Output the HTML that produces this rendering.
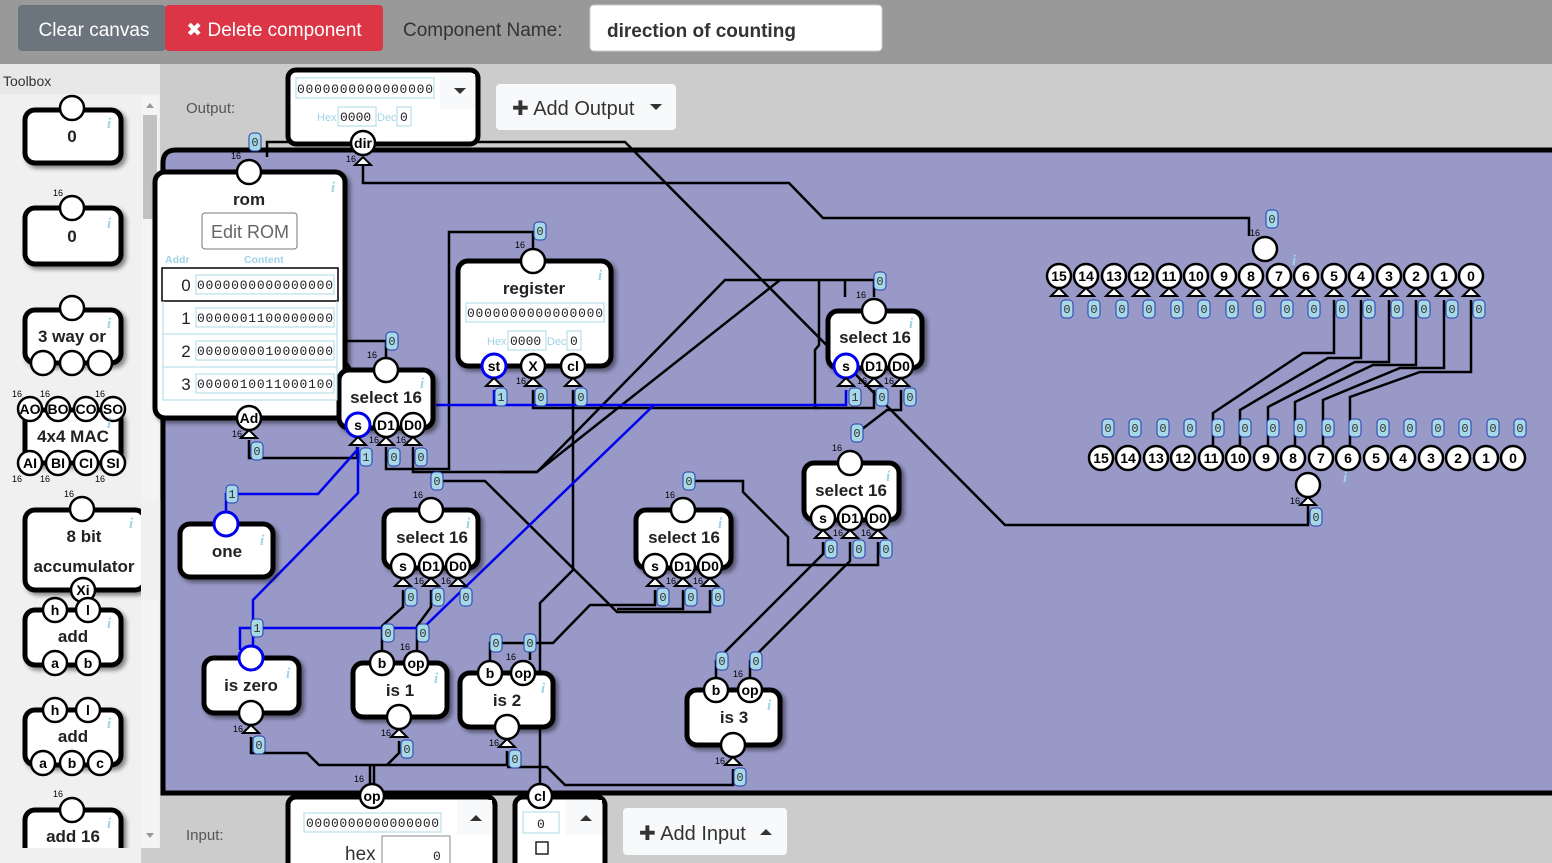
<!DOCTYPE html>
<html><head><meta charset="utf-8"><style>
body{margin:0;width:1552px;height:863px;overflow:hidden;background:#ccc;font-family:"Liberation Sans",sans-serif;position:relative}
svg{position:absolute;left:0;top:0}
.w{fill:none;stroke:#000;stroke-width:2.5}
.bl{fill:none;stroke:#0000ee;stroke-width:2.5}
.bx{fill:#fff;stroke:#000;stroke-width:5}
.p{fill:#fff;stroke:#000;stroke-width:2.5}
.pb{fill:#fff;stroke:#0000ee;stroke-width:3}
.tr{fill:#fff;stroke:#000;stroke-width:2}
.lb{fill:#a8d8e6;stroke:#2040b0;stroke-width:1}
.lt{font-family:"Liberation Mono",monospace;font-size:12px;fill:#333;text-anchor:middle}
.pt{font-weight:bold;font-size:14px;text-anchor:middle;fill:#000}
.ct{font-weight:bold;font-size:17px;text-anchor:middle;fill:#222}
.n16{font-size:9px;fill:#000}
.ii{font-style:italic;font-weight:bold;font-size:15px;fill:#9fd3e6;font-family:"Liberation Serif",serif}
.mono{font-family:"Liberation Mono",monospace;font-size:13px;fill:#222}
.hb{fill:#9fd3e6;font-size:11px}
</style></head><body>
<svg width="1552" height="863" viewBox="0 0 1552 863">
<defs><filter id="sh" x="-10%" y="-10%" width="130%" height="130%"><feDropShadow dx="3" dy="3" stdDeviation="2" flood-opacity="0.45"/></filter></defs>
<!-- header -->
<rect x="0" y="0" width="1552" height="64" fill="#999"/>
<rect x="18" y="5" width="148" height="46" rx="4" fill="#6c757d"/>
<text x="94" y="36" font-size="19" fill="#fff" text-anchor="middle">Clear canvas</text>
<rect x="165" y="5" width="218" height="46" rx="4" fill="#dc3545"/>
<text x="274" y="36" font-size="19" fill="#fff" text-anchor="middle">✖ Delete component</text>
<text x="403" y="36" font-size="19" fill="#333">Component Name:</text>
<rect x="590" y="5" width="292" height="46" rx="4" fill="#fff" stroke="#ccc"/>
<text x="607" y="37" font-size="19" font-weight="bold" fill="#333">direction of counting</text>
<!-- toolbox -->
<rect x="0" y="64" width="160" height="799" fill="#f0f0f0"/>
<rect x="0" y="64" width="160" height="30" fill="#e8e8e8"/>
<text x="3" y="86" font-size="14" fill="#333">Toolbox</text>
<rect x="142" y="96" width="16" height="752" fill="#f4f4f4"/>
<rect x="143" y="115" width="14" height="104" fill="#c1c1c1"/>
<path d="M146,108 L150,103 L154,108Z M146,833 L150,838 L154,833Z" fill="#999"/>
<rect x="0" y="848" width="160" height="15" fill="#ccc"/>
<g filter="url(#sh)">
<rect class="bx" x="25" y="110" width="96" height="53" rx="10"/>
<rect class="bx" x="25" y="208" width="96" height="56" rx="10"/>
<rect class="bx" x="25" y="310" width="96" height="53" rx="10"/>
<rect class="bx" x="25" y="410" width="96" height="53" rx="10"/>
<rect class="bx" x="25" y="510" width="120" height="80" rx="10"/>
<rect class="bx" x="25" y="610" width="96" height="55" rx="10"/>
<rect class="bx" x="25" y="710" width="96" height="55" rx="10"/>
<rect class="bx" x="25" y="810" width="96" height="50" rx="10"/>
</g>
<rect x="141" y="500" width="20" height="100" fill="#f0f0f0"/>
<g>
<circle class="p" cx="72" cy="108" r="12"/><text class="ct" x="72" y="142">0</text><text class="ii" x="107" y="128">i</text>
<circle class="p" cx="72" cy="208" r="12"/><text class="n16" x="53" y="196">16</text><text class="ct" x="72" y="242">0</text><text class="ii" x="107" y="228">i</text>
<circle class="p" cx="72" cy="308" r="12"/><text class="ct" x="72" y="342">3 way or</text><text class="ii" x="107" y="328">i</text>
<circle class="p" cx="43" cy="363" r="12"/><circle class="p" cx="72" cy="363" r="12"/><circle class="p" cx="100" cy="363" r="12"/>
<circle class="p" cx="30" cy="409" r="12"/><circle class="p" cx="58" cy="409" r="12"/><circle class="p" cx="86" cy="409" r="12"/><circle class="p" cx="113" cy="409" r="12"/>
<text class="pt" x="30" y="414">AO</text><text class="pt" x="58" y="414">BO</text><text class="pt" x="86" y="414">CO</text><text class="pt" x="113" y="414">SO</text>
<text class="n16" x="12" y="397">16</text><text class="n16" x="40" y="397">16</text><text class="n16" x="95" y="397">16</text>
<text class="ct" x="73" y="442">4x4 MAC</text><text class="ii" x="107" y="428">i</text>
<circle class="p" cx="30" cy="463" r="12"/><circle class="p" cx="58" cy="463" r="12"/><circle class="p" cx="86" cy="463" r="12"/><circle class="p" cx="113" cy="463" r="12"/>
<text class="pt" x="30" y="468">AI</text><text class="pt" x="58" y="468">BI</text><text class="pt" x="86" y="468">CI</text><text class="pt" x="113" y="468">SI</text>
<text class="n16" x="12" y="482">16</text><text class="n16" x="40" y="482">16</text><text class="n16" x="95" y="482">16</text>
<circle class="p" cx="82" cy="509" r="12"/><text class="n16" x="64" y="497">16</text>
<text class="ct" x="84" y="542">8 bit</text><text class="ct" x="84" y="572">accumulator</text><text class="ii" x="129" y="528">i</text>
<circle class="p" cx="83" cy="590" r="12"/><text class="pt" x="83" y="595">Xi</text>
<circle class="p" cx="55" cy="610" r="12"/><circle class="p" cx="88" cy="610" r="12"/><text class="pt" x="55" y="615">h</text><text class="pt" x="88" y="615">l</text>
<text class="ct" x="73" y="642">add</text><text class="ii" x="107" y="628">i</text>
<circle class="p" cx="55" cy="663" r="12"/><circle class="p" cx="88" cy="663" r="12"/><text class="pt" x="55" y="668">a</text><text class="pt" x="88" y="668">b</text>
<circle class="p" cx="55" cy="710" r="12"/><circle class="p" cx="88" cy="710" r="12"/><text class="pt" x="55" y="715">h</text><text class="pt" x="88" y="715">l</text>
<text class="ct" x="73" y="742">add</text><text class="ii" x="107" y="728">i</text>
<circle class="p" cx="43" cy="763" r="12"/><circle class="p" cx="72" cy="763" r="12"/><circle class="p" cx="100" cy="763" r="12"/>
<text class="pt" x="43" y="768">a</text><text class="pt" x="72" y="768">b</text><text class="pt" x="100" y="768">c</text>
<circle class="p" cx="72" cy="810" r="12"/><text class="n16" x="53" y="797">16</text><text class="ct" x="73" y="842">add 16</text><text class="ii" x="107" y="828">i</text>
</g>
<rect x="0" y="848" width="141" height="15" fill="#f0f0f0"/>
<!-- labels output/input -->
<text x="186" y="113" font-size="15" fill="#555">Output:</text>
<text x="186" y="840" font-size="15" fill="#555">Input:</text>
<!-- canvas -->
<path d="M163,793 V163 Q163,150 176,150 H1560 V793 Z" fill="#9999c8" stroke="#000" stroke-width="5"/>
<!-- add output -->
<rect x="496" y="84" width="180" height="46" rx="4" fill="#f8f9fa"/>
<text x="512" y="115" font-size="20" fill="#333">✚ Add Output</text><path d="M650,104 L656,110 L662,104Z" fill="#333"/>
<!-- wires -->
<g class="w">
<path d="M363,160 V183 H789 L823,218 H1249 V236"/>
<path d="M267,157 V142 H625 L1005,525 H1308 V505"/>
<path d="M386,357 V341 H331 L353,372"/>
<path d="M249,440 V458 H357 V447"/>
<path d="M386,447 V469 H449 V232 H533 V248"/>
<path d="M413,447 V472 H537 L725,280 H874 V297"/>
<path d="M845,280 V297"/>
<path d="M780,280 L537,472 H500"/>
<path d="M819,280 V345 L815,350 V408 H874 V390"/>
<path d="M533,390 V408 H819"/>
<path d="M573,390 V570 L540,603 V783"/>
<path d="M857,433 L887,410 H901 V390"/>
<path d="M437,481 H485 L617,612 H710 V590"/>
<path d="M683,590 V609 H617"/>
<path d="M655,590 V605 H590 L553,643 H490 V660"/>
<path d="M530,643 V660"/>
<path d="M689,481 H743 V492 L788,537 V565 H878 V542"/>
<path d="M716,677 V661 L823,554 V542"/>
<path d="M750,677 V661 L850,561 V542"/>
<path d="M403,590 V607 L382,626 V650"/>
<path d="M431,590 V607 L417,626 V650"/>
<path d="M251,737 V753 H307 L319,765 H507 V751"/>
<path d="M399,741 V753 L387,765"/>
<path d="M733,769 V785 H565 L547,767 H507"/>
<path d="M370,765 V783 M374,765 V783"/>
<path d="M1334,300 V353 H1303 L1213,413 V445"/>
<path d="M1361,300 V358 H1328 L1240,410 V445"/>
<path d="M1389,300 V362 H1355 L1268,407 V445"/>
<path d="M1416,300 V365 H1373 L1295,402 V445"/>
<path d="M1444,300 V368 H1400 L1323,400 V445"/>
<path d="M1471,300 V372 H1420 L1350,397 V445"/>
</g>
<g class="bl">
<path d="M436,405 H846 V390"/>
<path d="M494,390 V405"/>
<path d="M240,650 V628 H423 L654,405"/>
<path d="M358,447 V493 L253,600 V645"/>
<path d="M226,511 V494 H318 L358,449"/>
</g>
<!-- output box -->
<rect x="288" y="70" width="190" height="74" rx="8" fill="#fff" stroke="#000" stroke-width="5"/>
<rect x="440" y="74" width="35" height="35" fill="#f8f9fa"/><path d="M454,88 L460,94 L466,88Z" fill="#333"/>
<rect x="296" y="78" width="138" height="20" fill="#fff" stroke="#a8d8e6"/>
<text class="mono" x="297" y="93" textLength="136">0000000000000000</text>
<text class="hb" x="317" y="121">Hex</text><rect x="338" y="107" width="38" height="19" fill="#fff" stroke="#a8d8e6"/><text class="mono" x="340" y="121">0000</text>
<text class="hb" x="377" y="121">Dec</text><rect x="397" y="107" width="14" height="19" fill="#fff" stroke="#a8d8e6"/><text class="mono" x="400" y="121">0</text>
<!-- input boxes -->
<rect x="288" y="797" width="207" height="80" rx="8" fill="#fff" stroke="#000" stroke-width="5"/>
<rect x="457" y="800" width="35" height="35" fill="#f8f9fa"/><path d="M470,821 L476,815 L482,821Z" fill="#333"/>
<rect x="304" y="813" width="137" height="19" fill="#fff" stroke="#a8d8e6"/>
<text class="mono" x="306" y="827" textLength="133">0000000000000000</text>
<text x="345" y="860" font-size="19" fill="#333">hex</text>
<rect x="382" y="836" width="68" height="30" fill="#fff" stroke="#888"/><text class="mono" x="433" y="860" font-size="18">0</text>
<rect x="515" y="797" width="90" height="80" rx="8" fill="#fff" stroke="#000" stroke-width="5"/>
<rect x="566" y="800" width="36" height="35" fill="#f8f9fa"/><path d="M580,821 L586,815 L592,821Z" fill="#333"/>
<rect x="523" y="812" width="36" height="21" fill="#fff" stroke="#a8d8e6"/><text class="mono" x="537" y="828">0</text>
<rect x="536" y="842" width="12" height="12" fill="#fff" stroke="#222" stroke-width="1.5"/>
<rect x="623" y="808" width="164" height="47" rx="4" fill="#f8f9fa"/>
<text x="639" y="840" font-size="20" fill="#333">✚ Add Input</text><path d="M760,835 L766,829 L772,835Z" fill="#333"/>
<circle class="p" cx="372" cy="796" r="12"/><text class="pt" x="372" y="801">op</text><text class="n16" x="354" y="782">16</text>
<circle class="p" cx="540" cy="796" r="12"/><text class="pt" x="540" y="801">cl</text>
<circle class="p" cx="363" cy="143" r="12"/><text class="pt" x="363" y="148">dir</text>
<polygon class="tr" points="355,165 363,157 371,165"/><text class="n16" x="346" y="162">16</text>
<!-- component boxes -->
<g filter="url(#sh)">
<rect class="bx" x="155" y="172" width="190" height="246" rx="10"/>
<rect class="bx" x="339" y="370" width="94" height="58" rx="10"/>
<rect class="bx" x="458" y="261" width="153" height="105" rx="10"/>
<rect class="bx" x="828" y="311" width="94" height="57" rx="10"/>
<rect class="bx" x="804" y="463" width="95" height="57" rx="10"/>
<rect class="bx" x="384" y="510" width="94" height="58" rx="10"/>
<rect class="bx" x="636" y="510" width="95" height="58" rx="10"/>
<rect class="bx" x="180" y="524" width="93" height="53" rx="10"/>
<rect class="bx" x="204" y="658" width="95" height="55" rx="10"/>
<rect class="bx" x="353" y="663" width="94" height="54" rx="10"/>
<rect class="bx" x="460" y="673" width="93" height="54" rx="10"/>
<rect class="bx" x="687" y="690" width="93" height="55" rx="10"/>
</g>
<!-- rom -->
<circle class="p" cx="249" cy="172" r="12"/><text class="n16" x="231" y="159">16</text>
<text class="ct" x="249" y="205">rom</text><text class="ii" x="331" y="192">i</text>
<rect x="202" y="213" width="95" height="36" rx="3" fill="#fff" stroke="#777"/>
<text x="250" y="238" font-size="18" fill="#666" text-anchor="middle">Edit ROM</text>
<text x="165" y="263" font-size="10.5" font-weight="bold" fill="#9fd3e6">Addr</text>
<text x="244" y="263" font-size="10.5" font-weight="bold" fill="#9fd3e6">Content</text>
<rect x="162" y="268" width="176" height="33" fill="#fff" stroke="#000" stroke-width="1.5"/>
<path d="M163,301 V400 H337 V301 M163,334 H337 M163,367 H337" fill="none" stroke="#a8d8e6"/>
<g font-size="17" fill="#222" text-anchor="middle"><text x="186" y="291">0</text><text x="186" y="324">1</text><text x="186" y="357">2</text><text x="186" y="390">3</text></g>
<g fill="#fff" stroke="#a8d8e6"><rect x="196" y="275" width="138" height="19"/><rect x="196" y="308" width="138" height="19"/><rect x="196" y="341" width="138" height="19"/><rect x="196" y="374" width="138" height="19"/></g>
<text class="mono" x="197" y="289" textLength="136">0000000000000000</text>
<text class="mono" x="197" y="322" textLength="136">0000001100000000</text>
<text class="mono" x="197" y="355" textLength="136">0000000010000000</text>
<text class="mono" x="197" y="388" textLength="136">0000010011000100</text>
<circle class="p" cx="249" cy="418" r="12"/><text class="pt" x="249" y="423">Ad</text>
<polygon class="tr" points="241,438 249,430 257,438"/><text class="n16" x="232" y="437">16</text>
<!-- select16 a -->
<circle class="p" cx="386" cy="370" r="12"/><text class="n16" x="367" y="358">16</text>
<text class="ct" x="386" y="403">select 16</text><text class="ii" x="420" y="388">i</text>
<circle class="pb" cx="358" cy="425" r="12"/><circle class="p" cx="386" cy="425" r="12"/><circle class="p" cx="413" cy="425" r="12"/>
<text class="pt" x="358" y="430">s</text><text class="pt" x="386" y="430">D1</text><text class="pt" x="413" y="430">D0</text>
<polygon class="tr" points="350,445 358,437 366,445"/><polygon class="tr" points="378,445 386,437 394,445"/><polygon class="tr" points="405,445 413,437 421,445"/>
<text class="n16" x="369" y="443">16</text><text class="n16" x="396" y="443">16</text>
<!-- register -->
<circle class="p" cx="533" cy="261" r="12"/><text class="n16" x="515" y="248">16</text>
<text class="ct" x="534" y="294">register</text><text class="ii" x="598" y="280">i</text>
<rect x="466" y="303" width="138" height="19" fill="#fff" stroke="#a8d8e6"/>
<text class="mono" x="467" y="317" textLength="136">0000000000000000</text>
<text class="hb" x="487" y="345">Hex</text><rect x="508" y="331" width="38" height="19" fill="#fff" stroke="#a8d8e6"/><text class="mono" x="510" y="345">0000</text>
<text class="hb" x="547" y="345">Dec</text><rect x="567" y="331" width="14" height="19" fill="#fff" stroke="#a8d8e6"/><text class="mono" x="570" y="345">0</text>
<circle class="pb" cx="494" cy="366" r="12"/><circle class="p" cx="533" cy="366" r="12"/><circle class="p" cx="573" cy="366" r="12"/>
<text class="pt" x="494" y="371">st</text><text class="pt" x="533" y="371">X</text><text class="pt" x="573" y="371">cl</text>
<polygon class="tr" points="486,386 494,378 502,386"/><polygon class="tr" points="525,386 533,378 541,386"/><polygon class="tr" points="565,386 573,378 581,386"/>
<text class="n16" x="516" y="384">16</text>
<!-- select16 b -->
<circle class="p" cx="874" cy="311" r="12"/><text class="n16" x="856" y="298">16</text>
<text class="ct" x="875" y="343">select 16</text><text class="ii" x="909" y="328">i</text>
<circle class="pb" cx="846" cy="366" r="12"/><circle class="p" cx="874" cy="366" r="12"/><circle class="p" cx="901" cy="366" r="12"/>
<text class="pt" x="846" y="371">s</text><text class="pt" x="874" y="371">D1</text><text class="pt" x="901" y="371">D0</text>
<polygon class="tr" points="838,386 846,378 854,386"/><polygon class="tr" points="866,386 874,378 882,386"/><polygon class="tr" points="893,386 901,378 909,386"/>
<text class="n16" x="857" y="384">16</text><text class="n16" x="884" y="384">16</text>
<!-- select16 c -->
<circle class="p" cx="850" cy="463" r="12"/><text class="n16" x="832" y="451">16</text>
<text class="ct" x="851" y="496">select 16</text><text class="ii" x="886" y="481">i</text>
<circle class="p" cx="823" cy="518" r="12"/><circle class="p" cx="850" cy="518" r="12"/><circle class="p" cx="878" cy="518" r="12"/>
<text class="pt" x="823" y="523">s</text><text class="pt" x="850" y="523">D1</text><text class="pt" x="878" y="523">D0</text>
<polygon class="tr" points="815,538 823,530 831,538"/><polygon class="tr" points="842,538 850,530 858,538"/><polygon class="tr" points="870,538 878,530 886,538"/>
<text class="n16" x="833" y="536">16</text><text class="n16" x="861" y="536">16</text>
<!-- select16 d -->
<circle class="p" cx="431" cy="510" r="12"/><text class="n16" x="413" y="498">16</text>
<text class="ct" x="432" y="543">select 16</text><text class="ii" x="466" y="528">i</text>
<circle class="p" cx="403" cy="566" r="12"/><circle class="p" cx="431" cy="566" r="12"/><circle class="p" cx="458" cy="566" r="12"/>
<text class="pt" x="403" y="571">s</text><text class="pt" x="431" y="571">D1</text><text class="pt" x="458" y="571">D0</text>
<polygon class="tr" points="395,586 403,578 411,586"/><polygon class="tr" points="423,586 431,578 439,586"/><polygon class="tr" points="450,586 458,578 466,586"/>
<text class="n16" x="414" y="584">16</text><text class="n16" x="441" y="584">16</text>
<!-- select16 e -->
<circle class="p" cx="683" cy="510" r="12"/><text class="n16" x="665" y="498">16</text>
<text class="ct" x="684" y="543">select 16</text><text class="ii" x="718" y="528">i</text>
<circle class="p" cx="655" cy="566" r="12"/><circle class="p" cx="683" cy="566" r="12"/><circle class="p" cx="710" cy="566" r="12"/>
<text class="pt" x="655" y="571">s</text><text class="pt" x="683" y="571">D1</text><text class="pt" x="710" y="571">D0</text>
<polygon class="tr" points="647,586 655,578 663,586"/><polygon class="tr" points="675,586 683,578 691,586"/><polygon class="tr" points="702,586 710,578 718,586"/>
<text class="n16" x="666" y="584">16</text><text class="n16" x="693" y="584">16</text>
<!-- one -->
<circle class="pb" cx="226" cy="524" r="12"/><text class="ct" x="227" y="557">one</text><text class="ii" x="260" y="545">i</text>
<!-- is zero -->
<circle class="pb" cx="251" cy="658" r="12"/><text class="ct" x="251" y="691">is zero</text><text class="ii" x="286" y="678">i</text>
<circle class="p" cx="251" cy="713" r="12"/><polygon class="tr" points="243,733 251,725 259,733"/><text class="n16" x="233" y="732">16</text>
<!-- is 1 -->
<circle class="p" cx="382" cy="663" r="12"/><circle class="p" cx="416" cy="663" r="12"/><text class="pt" x="382" y="668">b</text><text class="pt" x="416" y="668">op</text><text class="n16" x="400" y="650">16</text>
<text class="ct" x="400" y="696">is 1</text><text class="ii" x="434" y="683">i</text>
<circle class="p" cx="399" cy="717" r="12"/><polygon class="tr" points="391,737 399,729 407,737"/><text class="n16" x="381" y="736">16</text>
<!-- is 2 -->
<circle class="p" cx="490" cy="673" r="12"/><circle class="p" cx="523" cy="673" r="12"/><text class="pt" x="490" y="678">b</text><text class="pt" x="523" y="678">op</text><text class="n16" x="506" y="660">16</text>
<text class="ct" x="507" y="706">is 2</text><text class="ii" x="541" y="693">i</text>
<circle class="p" cx="507" cy="727" r="12"/><polygon class="tr" points="499,747 507,739 515,747"/><text class="n16" x="489" y="746">16</text>
<!-- is 3 -->
<circle class="p" cx="716" cy="690" r="12"/><circle class="p" cx="750" cy="690" r="12"/><text class="pt" x="716" y="695">b</text><text class="pt" x="750" y="695">op</text><text class="n16" x="733" y="677">16</text>
<text class="ct" x="734" y="723">is 3</text><text class="ii" x="767" y="710">i</text>
<circle class="p" cx="733" cy="745" r="12"/><polygon class="tr" points="725,765 733,757 741,765"/><text class="n16" x="715" y="764">16</text>
<!-- splitter -->
<circle class="p" cx="1265" cy="249" r="12"/><text class="n16" x="1250" y="236">16</text>
<g>
<circle class="p" cx="1059" cy="276" r="12"/><circle class="p" cx="1086" cy="276" r="12"/><circle class="p" cx="1114" cy="276" r="12"/><circle class="p" cx="1141" cy="276" r="12"/><circle class="p" cx="1169" cy="276" r="12"/><circle class="p" cx="1196" cy="276" r="12"/><circle class="p" cx="1224" cy="276" r="12"/><circle class="p" cx="1251" cy="276" r="12"/><circle class="p" cx="1279" cy="276" r="12"/><circle class="p" cx="1306" cy="276" r="12"/><circle class="p" cx="1334" cy="276" r="12"/><circle class="p" cx="1361" cy="276" r="12"/><circle class="p" cx="1389" cy="276" r="12"/><circle class="p" cx="1416" cy="276" r="12"/><circle class="p" cx="1444" cy="276" r="12"/><circle class="p" cx="1471" cy="276" r="12"/>
</g>
<g class="pt">
<text x="1059" y="281">15</text><text x="1086" y="281">14</text><text x="1114" y="281">13</text><text x="1141" y="281">12</text><text x="1169" y="281">11</text><text x="1196" y="281">10</text><text x="1224" y="281">9</text><text x="1251" y="281">8</text><text x="1279" y="281">7</text><text x="1306" y="281">6</text><text x="1334" y="281">5</text><text x="1361" y="281">4</text><text x="1389" y="281">3</text><text x="1416" y="281">2</text><text x="1444" y="281">1</text><text x="1471" y="281">0</text>
</g>
<g class="tr">
<polygon points="1051,296 1059,288 1067,296"/><polygon points="1078,296 1086,288 1094,296"/><polygon points="1106,296 1114,288 1122,296"/><polygon points="1133,296 1141,288 1149,296"/><polygon points="1161,296 1169,288 1177,296"/><polygon points="1188,296 1196,288 1204,296"/><polygon points="1216,296 1224,288 1232,296"/><polygon points="1243,296 1251,288 1259,296"/><polygon points="1271,296 1279,288 1287,296"/><polygon points="1298,296 1306,288 1314,296"/><polygon points="1326,296 1334,288 1342,296"/><polygon points="1353,296 1361,288 1369,296"/><polygon points="1381,296 1389,288 1397,296"/><polygon points="1408,296 1416,288 1424,296"/><polygon points="1436,296 1444,288 1452,296"/><polygon points="1463,296 1471,288 1479,296"/>
</g>
<g>
<circle class="p" cx="1101" cy="458" r="12"/><circle class="p" cx="1128" cy="458" r="12"/><circle class="p" cx="1156" cy="458" r="12"/><circle class="p" cx="1183" cy="458" r="12"/><circle class="p" cx="1211" cy="458" r="12"/><circle class="p" cx="1238" cy="458" r="12"/><circle class="p" cx="1266" cy="458" r="12"/><circle class="p" cx="1293" cy="458" r="12"/><circle class="p" cx="1321" cy="458" r="12"/><circle class="p" cx="1348" cy="458" r="12"/><circle class="p" cx="1376" cy="458" r="12"/><circle class="p" cx="1403" cy="458" r="12"/><circle class="p" cx="1431" cy="458" r="12"/><circle class="p" cx="1458" cy="458" r="12"/><circle class="p" cx="1486" cy="458" r="12"/><circle class="p" cx="1513" cy="458" r="12"/>
</g>
<g class="pt">
<text x="1101" y="463">15</text><text x="1128" y="463">14</text><text x="1156" y="463">13</text><text x="1183" y="463">12</text><text x="1211" y="463">11</text><text x="1238" y="463">10</text><text x="1266" y="463">9</text><text x="1293" y="463">8</text><text x="1321" y="463">7</text><text x="1348" y="463">6</text><text x="1376" y="463">5</text><text x="1403" y="463">4</text><text x="1431" y="463">3</text><text x="1458" y="463">2</text><text x="1486" y="463">1</text><text x="1513" y="463">0</text>
</g>
<circle class="p" cx="1308" cy="485" r="12"/><polygon class="tr" points="1300,505 1308,497 1316,505"/><text class="n16" x="1290" y="504">16</text>
<!-- value labels -->
<g>
<rect class="lb" x="249" y="133" width="12" height="18" rx="4"/><text class="lt" x="255" y="146">0</text>
<rect class="lb" x="251" y="442" width="12" height="18" rx="4"/><text class="lt" x="257" y="455">0</text>
<rect class="lb" x="386" y="332" width="12" height="18" rx="4"/><text class="lt" x="392" y="345">0</text>
<rect class="lb" x="360" y="448" width="12" height="18" rx="4"/><text class="lt" x="366" y="461">1</text>
<rect class="lb" x="388" y="448" width="12" height="18" rx="4"/><text class="lt" x="394" y="461">0</text>
<rect class="lb" x="415" y="448" width="12" height="18" rx="4"/><text class="lt" x="421" y="461">0</text>
<rect class="lb" x="534" y="222" width="12" height="18" rx="4"/><text class="lt" x="540" y="235">0</text>
<rect class="lb" x="495" y="388" width="12" height="18" rx="4"/><text class="lt" x="501" y="401">1</text>
<rect class="lb" x="535" y="388" width="12" height="18" rx="4"/><text class="lt" x="541" y="401">0</text>
<rect class="lb" x="575" y="388" width="12" height="18" rx="4"/><text class="lt" x="581" y="401">0</text>
<rect class="lb" x="874" y="272" width="12" height="18" rx="4"/><text class="lt" x="880" y="285">0</text>
<rect class="lb" x="849" y="388" width="12" height="18" rx="4"/><text class="lt" x="855" y="401">1</text>
<rect class="lb" x="876" y="388" width="12" height="18" rx="4"/><text class="lt" x="882" y="401">0</text>
<rect class="lb" x="904" y="388" width="12" height="18" rx="4"/><text class="lt" x="910" y="401">0</text>
<rect class="lb" x="851" y="424" width="12" height="18" rx="4"/><text class="lt" x="857" y="437">0</text>
<rect class="lb" x="825" y="540" width="12" height="18" rx="4"/><text class="lt" x="831" y="553">0</text>
<rect class="lb" x="853" y="540" width="12" height="18" rx="4"/><text class="lt" x="859" y="553">0</text>
<rect class="lb" x="880" y="540" width="12" height="18" rx="4"/><text class="lt" x="886" y="553">0</text>
<rect class="lb" x="431" y="472" width="12" height="18" rx="4"/><text class="lt" x="437" y="485">0</text>
<rect class="lb" x="405" y="588" width="12" height="18" rx="4"/><text class="lt" x="411" y="601">0</text>
<rect class="lb" x="432" y="588" width="12" height="18" rx="4"/><text class="lt" x="438" y="601">0</text>
<rect class="lb" x="460" y="588" width="12" height="18" rx="4"/><text class="lt" x="466" y="601">0</text>
<rect class="lb" x="683" y="472" width="12" height="18" rx="4"/><text class="lt" x="689" y="485">0</text>
<rect class="lb" x="657" y="588" width="12" height="18" rx="4"/><text class="lt" x="663" y="601">0</text>
<rect class="lb" x="685" y="588" width="12" height="18" rx="4"/><text class="lt" x="691" y="601">0</text>
<rect class="lb" x="712" y="588" width="12" height="18" rx="4"/><text class="lt" x="718" y="601">0</text>
<rect class="lb" x="226" y="485" width="12" height="18" rx="4"/><text class="lt" x="232" y="498">1</text>
<rect class="lb" x="251" y="619" width="12" height="18" rx="4"/><text class="lt" x="257" y="632">1</text>
<rect class="lb" x="253" y="736" width="12" height="18" rx="4"/><text class="lt" x="259" y="749">0</text>
<rect class="lb" x="382" y="624" width="12" height="18" rx="4"/><text class="lt" x="388" y="637">0</text>
<rect class="lb" x="417" y="624" width="12" height="18" rx="4"/><text class="lt" x="423" y="637">0</text>
<rect class="lb" x="401" y="740" width="12" height="18" rx="4"/><text class="lt" x="407" y="753">0</text>
<rect class="lb" x="490" y="634" width="12" height="18" rx="4"/><text class="lt" x="496" y="647">0</text>
<rect class="lb" x="524" y="634" width="12" height="18" rx="4"/><text class="lt" x="530" y="647">0</text>
<rect class="lb" x="509" y="750" width="12" height="18" rx="4"/><text class="lt" x="515" y="763">0</text>
<rect class="lb" x="716" y="652" width="12" height="18" rx="4"/><text class="lt" x="722" y="665">0</text>
<rect class="lb" x="750" y="652" width="12" height="18" rx="4"/><text class="lt" x="756" y="665">0</text>
<rect class="lb" x="734" y="768" width="12" height="18" rx="4"/><text class="lt" x="740" y="781">0</text>
<rect class="lb" x="1266" y="210" width="12" height="18" rx="4"/><text class="lt" x="1272" y="223">0</text>
<rect class="lb" x="1310" y="508" width="12" height="18" rx="4"/><text class="lt" x="1316" y="521">0</text>
</g>
<g>
<rect class="lb" x="1061" y="300" width="12" height="18" rx="4"/><rect class="lb" x="1088" y="300" width="12" height="18" rx="4"/><rect class="lb" x="1116" y="300" width="12" height="18" rx="4"/><rect class="lb" x="1143" y="300" width="12" height="18" rx="4"/><rect class="lb" x="1171" y="300" width="12" height="18" rx="4"/><rect class="lb" x="1198" y="300" width="12" height="18" rx="4"/><rect class="lb" x="1226" y="300" width="12" height="18" rx="4"/><rect class="lb" x="1253" y="300" width="12" height="18" rx="4"/><rect class="lb" x="1281" y="300" width="12" height="18" rx="4"/><rect class="lb" x="1308" y="300" width="12" height="18" rx="4"/><rect class="lb" x="1336" y="300" width="12" height="18" rx="4"/><rect class="lb" x="1363" y="300" width="12" height="18" rx="4"/><rect class="lb" x="1391" y="300" width="12" height="18" rx="4"/><rect class="lb" x="1418" y="300" width="12" height="18" rx="4"/><rect class="lb" x="1446" y="300" width="12" height="18" rx="4"/><rect class="lb" x="1473" y="300" width="12" height="18" rx="4"/>
</g>
<g class="lt">
<text x="1067" y="313">0</text><text x="1094" y="313">0</text><text x="1122" y="313">0</text><text x="1149" y="313">0</text><text x="1177" y="313">0</text><text x="1204" y="313">0</text><text x="1232" y="313">0</text><text x="1259" y="313">0</text><text x="1287" y="313">0</text><text x="1314" y="313">0</text><text x="1342" y="313">0</text><text x="1369" y="313">0</text><text x="1397" y="313">0</text><text x="1424" y="313">0</text><text x="1452" y="313">0</text><text x="1479" y="313">0</text>
</g>
<g>
<rect class="lb" x="1102" y="419" width="12" height="18" rx="4"/><rect class="lb" x="1129" y="419" width="12" height="18" rx="4"/><rect class="lb" x="1157" y="419" width="12" height="18" rx="4"/><rect class="lb" x="1184" y="419" width="12" height="18" rx="4"/><rect class="lb" x="1212" y="419" width="12" height="18" rx="4"/><rect class="lb" x="1239" y="419" width="12" height="18" rx="4"/><rect class="lb" x="1267" y="419" width="12" height="18" rx="4"/><rect class="lb" x="1294" y="419" width="12" height="18" rx="4"/><rect class="lb" x="1322" y="419" width="12" height="18" rx="4"/><rect class="lb" x="1349" y="419" width="12" height="18" rx="4"/><rect class="lb" x="1377" y="419" width="12" height="18" rx="4"/><rect class="lb" x="1404" y="419" width="12" height="18" rx="4"/><rect class="lb" x="1432" y="419" width="12" height="18" rx="4"/><rect class="lb" x="1459" y="419" width="12" height="18" rx="4"/><rect class="lb" x="1487" y="419" width="12" height="18" rx="4"/><rect class="lb" x="1514" y="419" width="12" height="18" rx="4"/>
</g>
<g class="lt">
<text x="1108" y="432">0</text><text x="1135" y="432">0</text><text x="1163" y="432">0</text><text x="1190" y="432">0</text><text x="1218" y="432">0</text><text x="1245" y="432">0</text><text x="1273" y="432">0</text><text x="1300" y="432">0</text><text x="1328" y="432">0</text><text x="1355" y="432">0</text><text x="1383" y="432">0</text><text x="1410" y="432">0</text><text x="1438" y="432">0</text><text x="1465" y="432">0</text><text x="1493" y="432">0</text><text x="1520" y="432">0</text>
</g>
<text class="ii" x="1292" y="265">i</text><text class="ii" x="1343" y="482">i</text>
</svg>
</body></html>
